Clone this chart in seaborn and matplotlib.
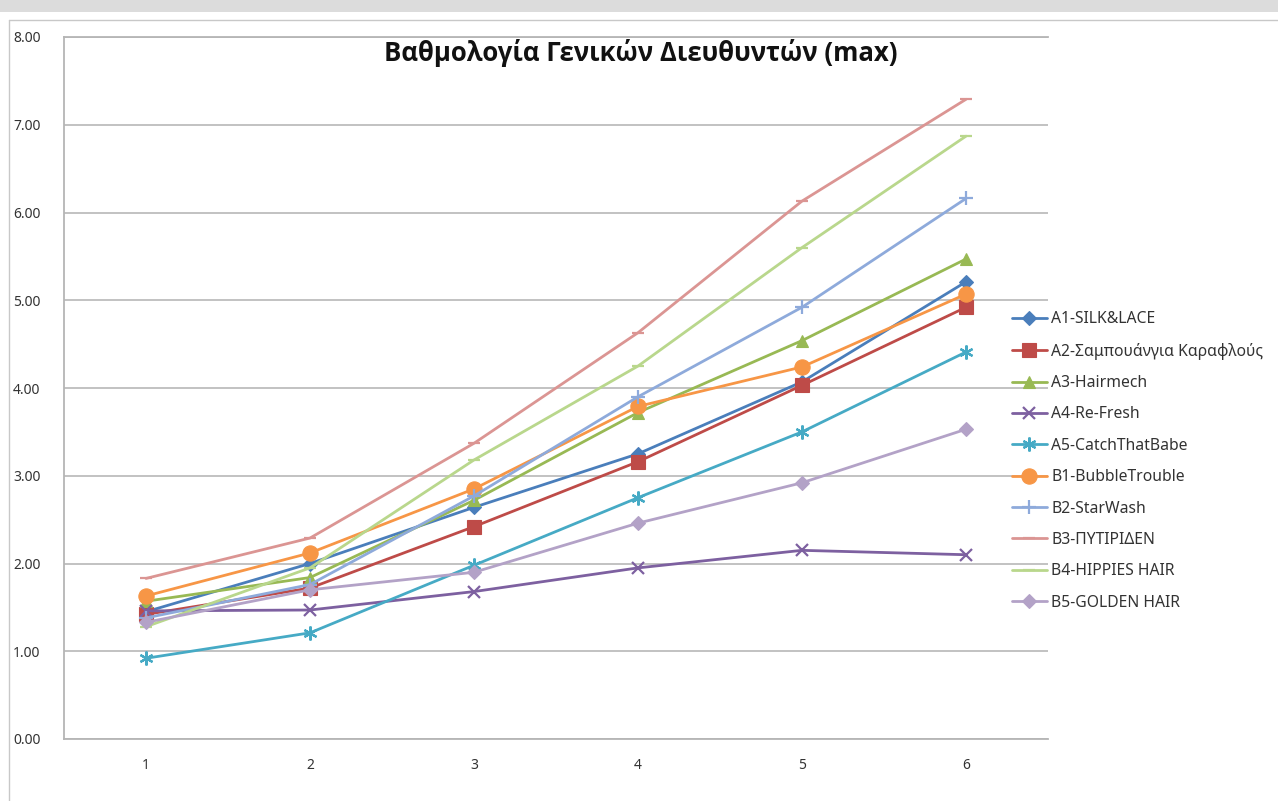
import numpy as np
import pandas as pd
import matplotlib
matplotlib.use("Agg")
import matplotlib.pyplot as plt
from matplotlib.patches import Rectangle
from matplotlib.lines import Line2D
import seaborn as sns

# ---- data ----
x_vals = [1, 2, 3, 4, 5, 6]
series_names = ["A1-SILK&LACE", "A2-Σαμπουάνγια Καραφλούς", "A3-Hairmech", "A4-Re-Fresh",
                "A5-CatchThatBabe", "B1-BubbleTrouble", "B2-StarWash", "B3-ΠΥΤΙΡΙΔΕΝ",
                "B4-HIPPIES HAIR", "B5-GOLDEN HAIR"]
A1 = [1.45, 2.00, 2.64, 3.25, 4.07, 5.21]
A2 = [1.42, 1.72, 2.42, 3.16, 4.03, 4.92]
A3 = [1.57, 1.84, 2.72, 3.72, 4.54, 5.47]
A4 = [1.46, 1.47, 1.68, 1.95, 2.15, 2.10]
A5 = [0.92, 1.21, 1.98, 2.75, 3.50, 4.41]
B1 = [1.63, 2.12, 2.85, 3.79, 4.24, 5.07]
B2 = [1.38, 1.76, 2.77, 3.90, 4.92, 6.16]
B3 = [1.83, 2.29, 3.37, 4.63, 6.13, 7.29]
B4 = [1.28, 1.95, 3.18, 4.25, 5.60, 6.87]
B5 = [1.33, 1.70, 1.90, 2.46, 2.92, 3.53]
series_values = [A1, A2, A3, A4, A5, B1, B2, B3, B4, B5]
y_ticks = [0, 1, 2, 3, 4, 5, 6, 7, 8]
title = "Βαθμολογία Γενικών Διευθυντών (max)"

# ---- styles ----
colors = ["#4A7EBB", "#BE4B48", "#98B954", "#7D60A0", "#46AAC5",
          "#F79646", "#8EAADB", "#DB9593", "#B9D78C", "#B3A2C7"]
markers = ["D", "s", "^", "x", (6, 2, 0), "o", "+", "_", "_", "D"]
msizes = [7, 10, 9, 9, 10, 11, 10, 8, 8, 7]

sns.set_theme(style="white")
plt.rcParams["font.family"] = ["Noto Sans", "DejaVu Sans"]

W, H = 1278, 801
fig = plt.figure(figsize=(W / 100, H / 100), dpi=100)
ax = fig.add_axes([64 / W, 1 - 739 / H, (1048 - 64) / W, (739 - 37) / H])

for name, vals, c, m, ms in zip(series_names, series_values, colors, markers, msizes):
    df = pd.DataFrame({"x": x_vals, "y": vals})
    filled = m in ("D", "s", "^", "o")
    sns.lineplot(data=df, x="x", y="y", ax=ax, color=c, marker=m, markersize=ms,
                 linewidth=2.0, label=name, markeredgecolor=c, markerfacecolor=c,
                 markeredgewidth=0.8 if filled else 1.6, zorder=3)

ax.set_xlim(0.5, 6.5)
ax.set_ylim(0, 8)
ax.set_xticks(x_vals)
ax.set_xticklabels([str(v) for v in x_vals])
ax.set_yticks(y_ticks)
ax.set_yticklabels([f"{v:.2f}" for v in y_ticks])
ax.set_xlabel("")
ax.set_ylabel("")
ax.yaxis.grid(True, color="#BDBDBD", linewidth=1.3)
ax.xaxis.grid(False)
ax.set_axisbelow(True)
for s in ["left", "bottom", "top"]:
    ax.spines[s].set_visible(True)
    ax.spines[s].set_color("#B5B5B5")
    ax.spines[s].set_linewidth(1.3)
ax.spines["right"].set_visible(False)
ax.tick_params(axis="y", length=0, pad=17, labelsize=10, labelcolor="#333333")
ax.tick_params(axis="x", length=0, pad=14, labelsize=10, labelcolor="#333333")

fig.text(641 / W, 1 - 53 / H, title, ha="center", va="center",
         fontsize=18.5, fontweight="bold", color="#111111",
         family=["Open Sans", "DejaVu Sans"])

leg = ax.legend(loc="center left", bbox_to_anchor=(1012 / W, 1 - 461 / H),
                bbox_transform=fig.transFigure, frameon=False, fontsize=11.3,
                handlelength=2.2, handletextpad=0.3, labelspacing=0.98,
                borderaxespad=0, borderpad=0)
for t in leg.get_texts():
    t.set_color("#333333")

# window-like border decorations
fig.patches.append(Rectangle((0, 1 - 12 / H), 1, 12 / H, transform=fig.transFigure,
                             facecolor="#DCDCDC", edgecolor="none", zorder=0))
fig.lines.append(Line2D([9 / W, 9 / W], [0, 1 - 20 / H], transform=fig.transFigure,
                        color="#C8C8C8", linewidth=1))
fig.lines.append(Line2D([9 / W, 1], [1 - 20 / H, 1 - 20 / H], transform=fig.transFigure,
                        color="#C8C8C8", linewidth=1))

fig.savefig("out.png", dpi=100)
